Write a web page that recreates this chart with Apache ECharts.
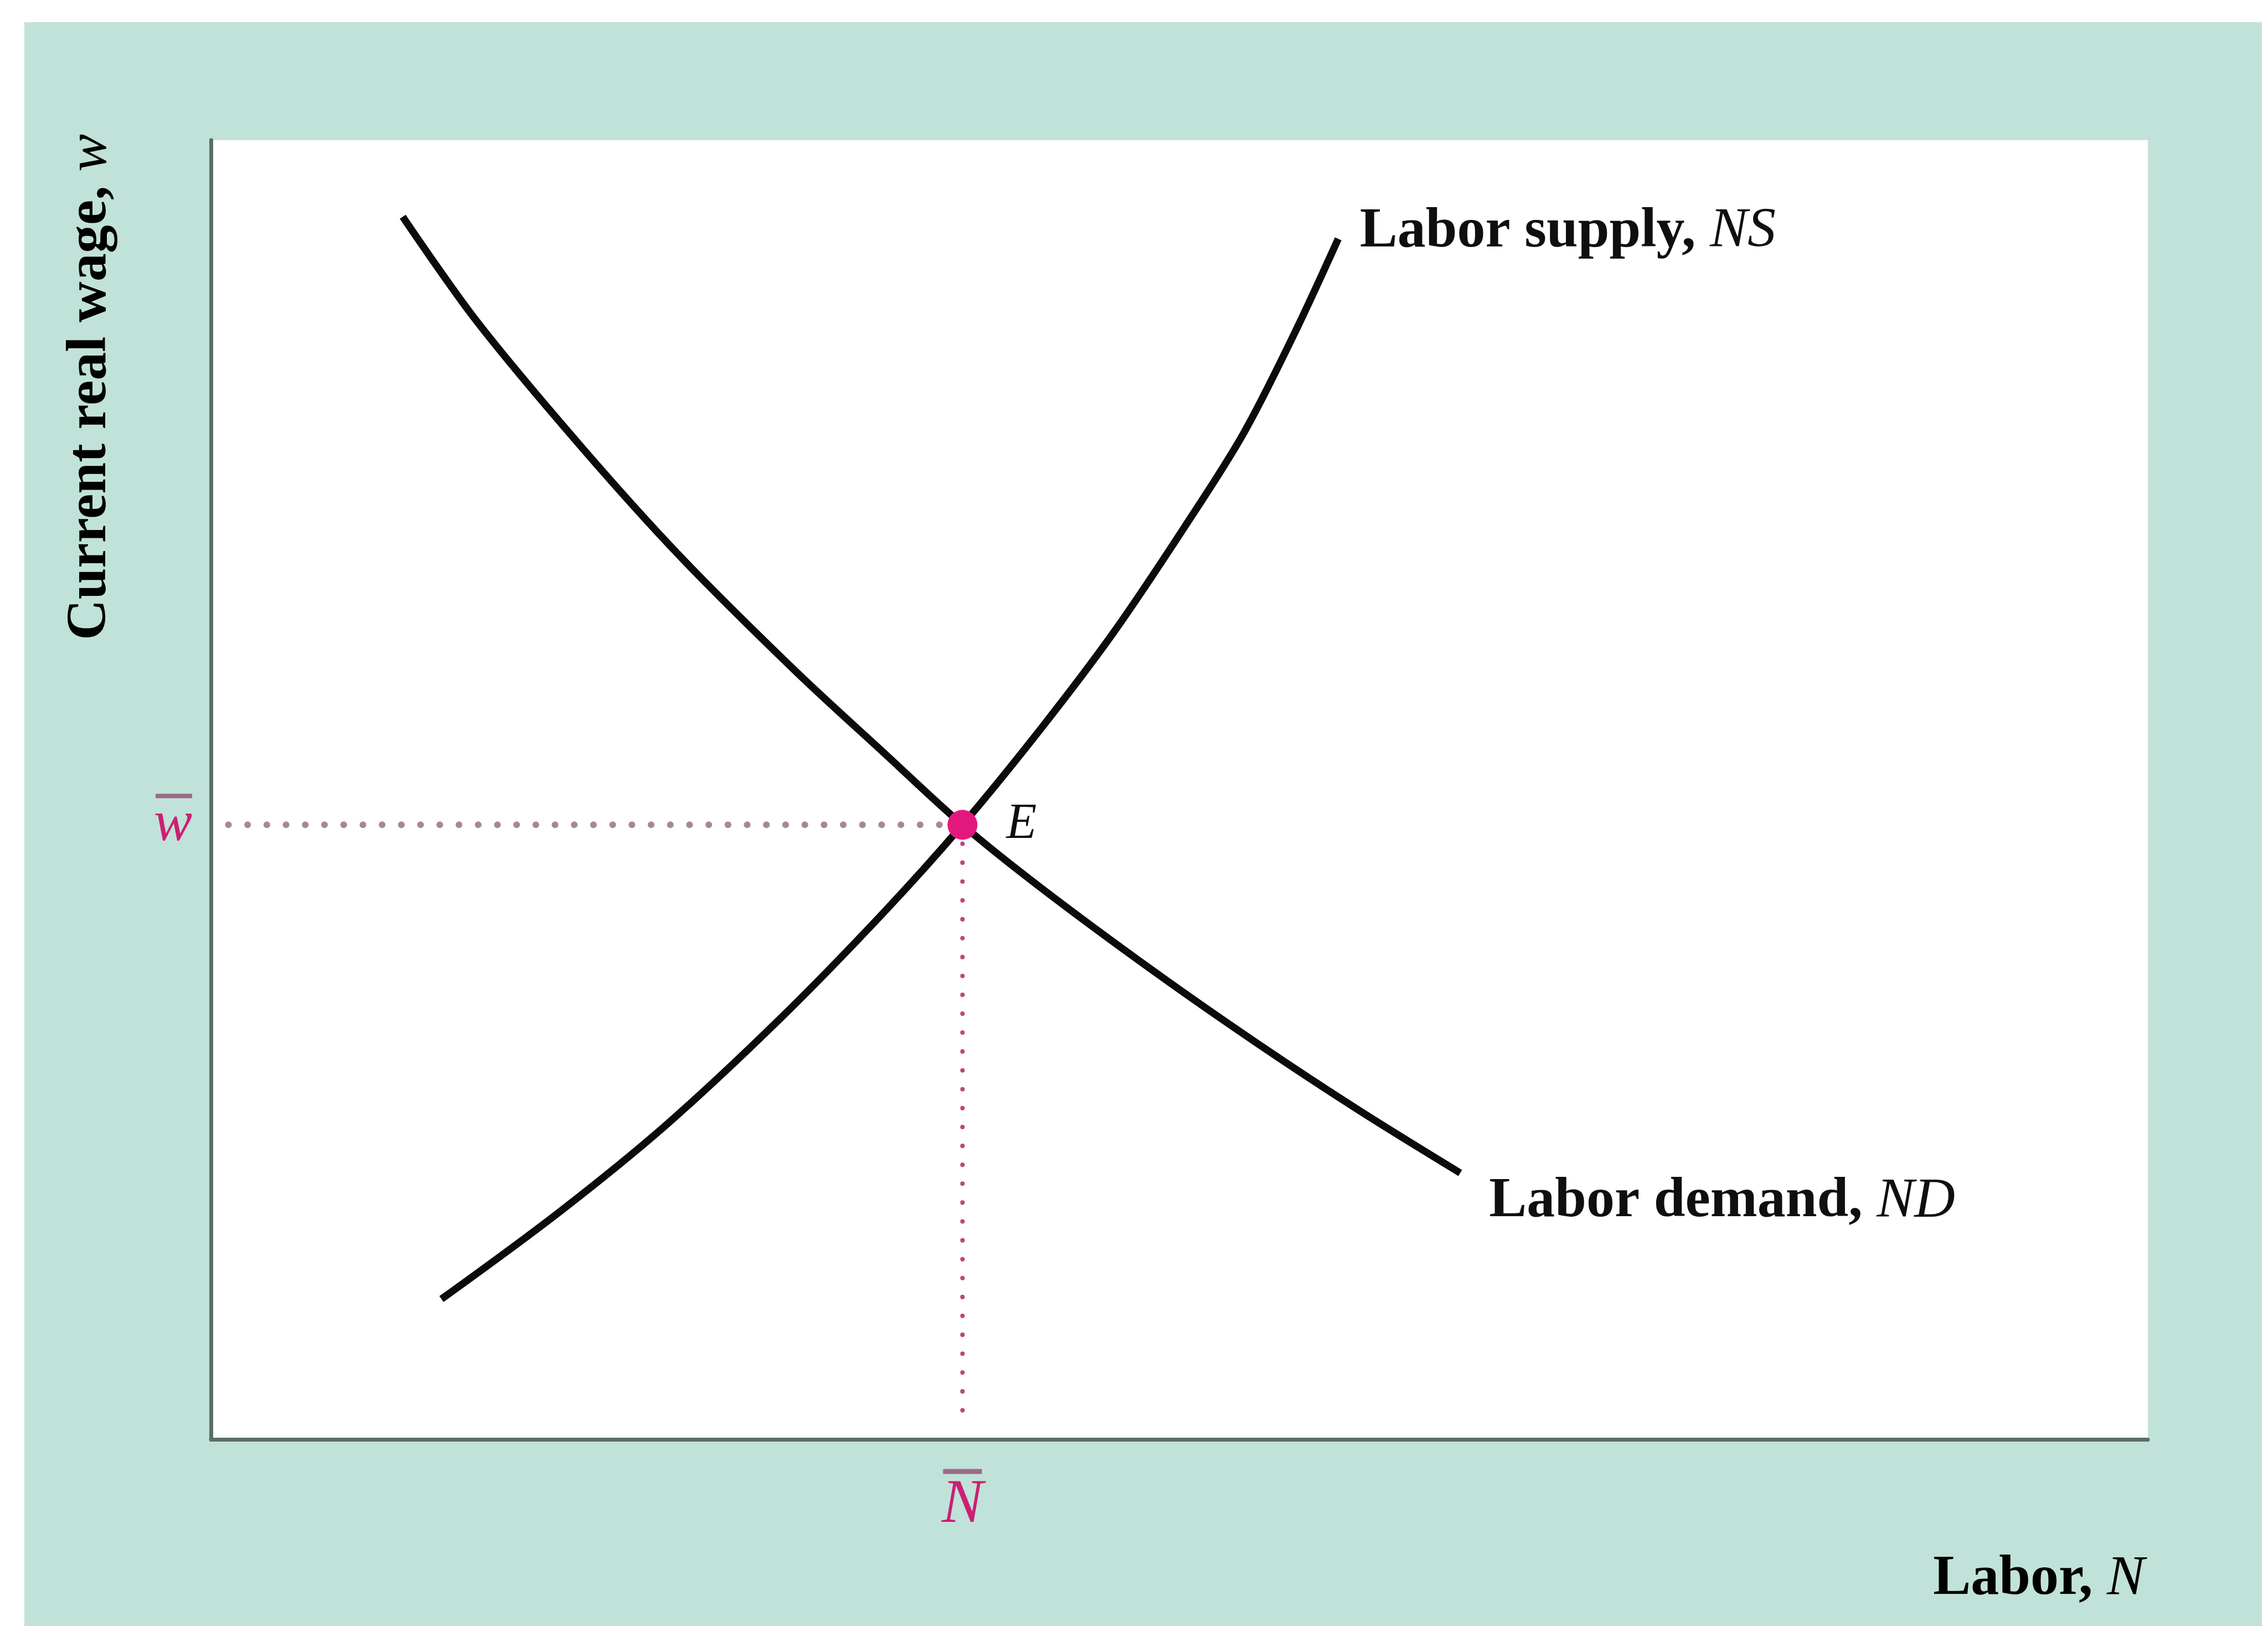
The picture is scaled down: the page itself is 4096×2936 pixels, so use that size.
<!DOCTYPE html>
<html>
<head>
<meta charset="utf-8">
<title>Labor market equilibrium</title>
<script src="https://cdn.jsdelivr.net/npm/echarts@6/dist/echarts.min.js"></script>
<style>
  html, body { margin: 0; padding: 0; background: #fff; }
  #chart { width: 4096px; height: 2936px; }
</style>
</head>
<body>
<div id="chart"></div>
<script>
// labor N and real wage w, both on a 0-100 scale
var demandN = [9.9, 13.7, 19.0, 24.2, 30.2, 34.7, 38.8, 42.9, 48.8, 54.1, 59.3, 64.5]
var demandW = [94.1, 86.1, 76.6, 68.0, 59.1, 52.9, 47.3, 42.4, 35.9, 30.4, 25.3, 20.5]
var supplyN = [11.9, 17.9, 23.5, 29.4, 34.7, 38.8, 42.9, 46.6, 50.3, 53.3, 55.9, 58.2]
var supplyW = [10.8, 17.4, 24.2, 32.4, 40.5, 47.3, 54.8, 62.1, 70.3, 77.4, 85.0, 92.4]
// equilibrium E
var eqN = 38.8
var eqW = 47.3
// where the dotted guides start / stop
var guideStartN = 0.9
var guideEndW = 1.5

var SERIF = 'Liberation Serif'
var INK = '#0e100f'
var PINK = '#cc1f74'
var BAR = '#9d6a8a'

function pairs(xs, ys) {
  return xs.map(function(x, i) { return [x, ys[i]] })
}

var bold = { fontFamily: SERIF, fontWeight: 'bold', fontSize: 102, color: INK }
var ital = { fontFamily: SERIF, fontStyle: 'italic', fontSize: 102, color: INK }

var chart = echarts.init(document.getElementById('chart'))
chart.setOption({
  animation: false,
  backgroundColor: '#c1e2d8',
  graphic: [
    { type: 'rect', shape: { x: 0, y: 0, width: 4096, height: 40 }, style: { fill: '#fff' } },
    { type: 'rect', shape: { x: 0, y: 0, width: 44, height: 2936 }, style: { fill: '#fff' } },
    { type: 'rect', shape: { x: 4085, y: 0, width: 11, height: 2936 }, style: { fill: '#fff' } },
    {
      type: 'text',
      x: 164,
      y: 699,
      rotation: Math.PI / 2,
      style: {
        text: '{b|Current real wage, }{i|w}',
        rich: { b: bold, i: ital },
        align: 'center',
        verticalAlign: 'middle'
      }
    },
    {
      type: 'text',
      x: 3873,
      y: 2852,
      style: {
        text: '{b|Labor, }{i|N}',
        rich: { b: bold, i: ital },
        align: 'right',
        verticalAlign: 'middle'
      }
    }
  ],
  grid: {
    left: 381,
    right: 217,
    top: 253,
    bottom: 337,
    show: true,
    backgroundColor: '#fff',
    borderWidth: 0
  },
  xAxis: {
    type: 'value',
    min: 0,
    max: 100,
    axisLine: { show: true, lineStyle: { color: '#5b6d69', width: 7 } },
    axisTick: { show: false },
    splitLine: { show: false },
    axisLabel: {
      customValues: [eqN],
      margin: 46,
      formatter: function() { return '{bar| }\n{n|N}' },
      rich: {
        bar: { width: 70, height: 9, lineHeight: 24, fontSize: 8, backgroundColor: BAR },
        n: { fontFamily: SERIF, fontStyle: 'italic', fontSize: 112, lineHeight: 100, color: PINK }
      }
    }
  },
  yAxis: {
    type: 'value',
    min: 0,
    max: 100,
    axisLine: { show: true, lineStyle: { color: '#5b6d69', width: 7 } },
    axisTick: { show: false },
    splitLine: { show: false },
    axisLabel: {
      customValues: [eqW],
      margin: 34,
      formatter: function() { return '{bar| }\n{w|w}\n{sp| }' },
      rich: {
        bar: { width: 66, height: 8, lineHeight: 24, fontSize: 8, backgroundColor: BAR },
        w: { fontFamily: SERIF, fontStyle: 'italic', fontSize: 104, lineHeight: 80, color: PINK },
        sp: { width: 66, height: 8, lineHeight: 24, fontSize: 8 }
      }
    }
  },
  series: [
    {
      name: 'guideW',
      type: 'line',
      silent: true,
      showSymbol: false,
      data: [[guideStartN, eqW], [eqN, eqW]],
      lineStyle: { color: '#a5879a', width: 12, type: [0.1, 34.6], cap: 'round' },
      z: 1
    },
    {
      name: 'guideN',
      type: 'line',
      silent: true,
      showSymbol: false,
      data: [[eqN, eqW], [eqN, guideEndW]],
      lineStyle: { color: '#c0437f', width: 8, type: [0.1, 34], cap: 'round' },
      z: 1
    },
    {
      name: 'Labor demand, ND',
      type: 'line',
      smooth: 0.33,
      showSymbol: false,
      data: pairs(demandN, demandW),
      lineStyle: { color: '#0b0b0b', width: 13 },
      endLabel: {
        show: true,
        formatter: '{b|Labor demand, }{i|ND}',
        rich: { b: bold, i: ital },
        distance: 52,
        offset: [0, 52]
      },
      z: 2
    },
    {
      name: 'Labor supply, NS',
      type: 'line',
      smooth: 0.33,
      showSymbol: false,
      data: pairs(supplyN, supplyW),
      lineStyle: { color: '#0b0b0b', width: 13 },
      endLabel: {
        show: true,
        formatter: '{b|Labor supply, }{i|NS}',
        rich: { b: bold, i: ital },
        distance: 39,
        offset: [0, -13]
      },
      z: 2
    },
    {
      name: 'E',
      type: 'scatter',
      data: [[eqN, eqW]],
      symbolSize: 54,
      itemStyle: { color: '#e3187f', opacity: 1 },
      label: {
        show: true,
        position: 'right',
        distance: 52,
        formatter: 'E',
        fontFamily: SERIF,
        fontStyle: 'italic',
        fontSize: 90,
        color: INK
      },
      z: 3
    }
  ]
})
</script>
</body>
</html>
